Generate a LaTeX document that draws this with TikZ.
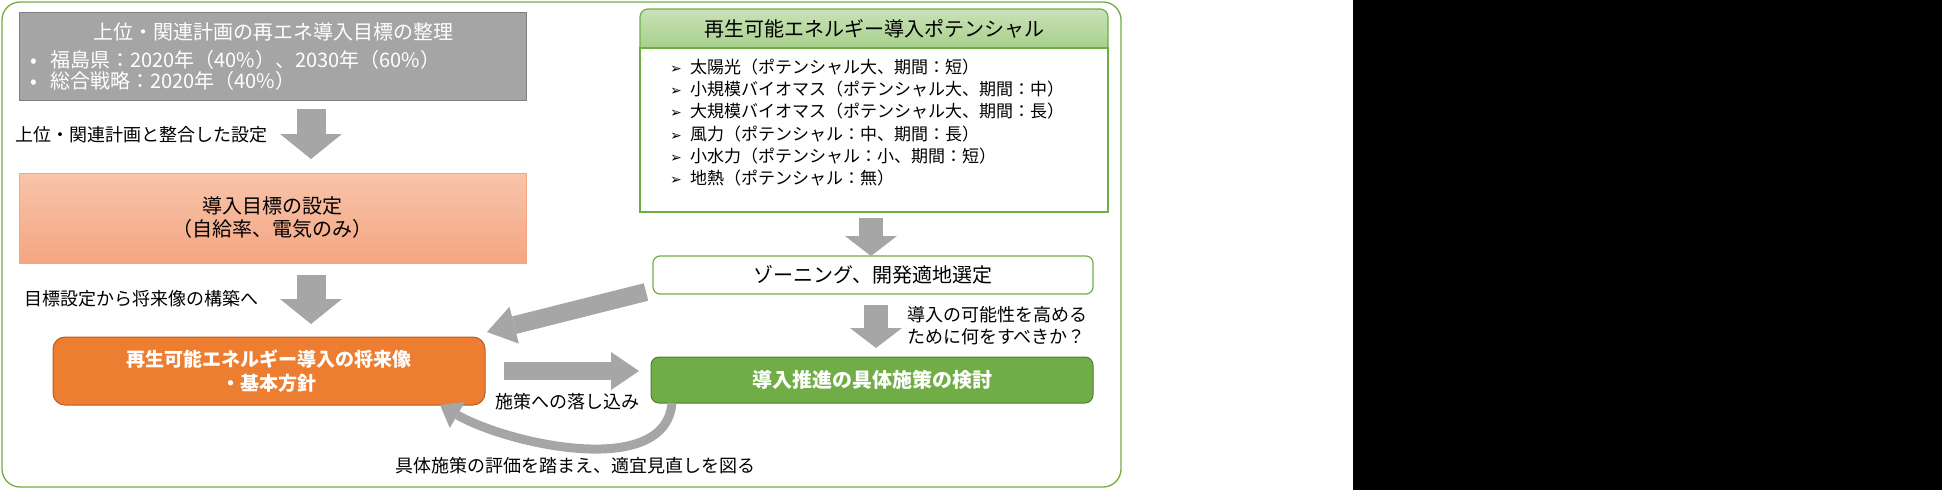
\documentclass[tikz,border=0pt]{standalone}
\usepackage{fontspec}
\setmainfont{Noto Sans CJK JP}
\newfontfamily\dejavu{DejaVu Sans}
\usetikzlibrary{arrows.meta,positioning,calc}
\definecolor{pgreen}{HTML}{70AD47}
\definecolor{pgreendk}{HTML}{507E32}
\definecolor{porange}{HTML}{ED7D31}
\definecolor{porangedk}{HTML}{B85F22}
\definecolor{pgray}{HTML}{A5A5A5}
\definecolor{pgraydk}{HTML}{7F7F7F}
\definecolor{arrgray}{HTML}{A6A6A6}
\definecolor{salmontop}{HTML}{F8C4AA}
\definecolor{salmonbot}{HTML}{F4A682}
\definecolor{headtop}{HTML}{C9E2B8}
\definecolor{headbot}{HTML}{9FCB80}
\newcommand{\pbul}{\makebox[20pt][l]{\dejavu\fontsize{14}{14}\selectfont ➢}}
\newcommand{\gbul}{\makebox[20pt][l]{•}}

\begin{document}
\begin{tikzpicture}[x=1pt, y=1pt,
    frame/.style={draw=pgreen, line width=1.3pt, rounded corners=18pt},
    plain/.style={rectangle, inner sep=0pt, outer sep=0pt},
    graybox/.style={plain, fill=pgray, draw=pgraydk, line width=0.8pt, minimum width=507pt, minimum height=88pt},
    salmonbox/.style={plain, top color=salmontop, bottom color=salmonbot, draw=salmonbot, minimum width=507pt, minimum height=90pt, align=center, font=\fontsize{20}{23}\selectfont},
    orangebox/.style={plain, rounded corners=12pt, fill=porange, draw=porangedk, line width=1pt, minimum width=432pt, minimum height=68pt, align=center, text=white, font=\bfseries\fontsize{19}{24}\selectfont},
    headbox/.style={plain, rounded corners=8pt, top color=headtop, bottom color=headbot, draw=pgreen, line width=1.2pt, minimum width=468pt, minimum height=49pt},
    listbox/.style={plain, fill=white, draw=pgreen, line width=1.2pt, minimum width=468pt, minimum height=164pt},
    zonebox/.style={plain, rounded corners=7pt, fill=white, draw=pgreen, line width=1.2pt, minimum width=440pt, minimum height=38pt, font=\fontsize{20}{24}\selectfont},
    greenbox/.style={plain, rounded corners=8pt, fill=pgreen, draw=pgreendk, line width=1pt, minimum width=442pt, minimum height=46pt, text=white, font=\bfseries\fontsize{20}{24}\selectfont},
    wtxt/.style={text=white, inner sep=0pt, font=\fontsize{20}{24}\selectfont},
    item/.style={anchor=west, inner sep=0pt, font=\fontsize{17}{20}\selectfont},
    lbl/.style={inner sep=0pt, font=\fontsize{18}{22}\selectfont},
    bigarr/.style={draw=arrgray, line width=29pt, -{Triangle[length=25pt, width=62pt, line width=0pt]}},
    midarr/.style={draw=arrgray, line width=24pt, -{Triangle[length=20pt, width=52pt, line width=0pt]}},
    slimarr/.style={draw=arrgray, line width=18pt, -{Triangle[length=28pt, width=38pt, line width=0pt]}},
    bendarr/.style={draw=arrgray, line width=9pt, -{Triangle[length=20pt, width=30pt, line width=0pt]}}
]
    \useasboundingbox (0,0) rectangle (1942,-490);
    \fill[white] (0,0) rectangle (1353,-490);
    \fill[black] (1353,0) rectangle (1942,-490);
    \draw[frame] (2,-2) rectangle (1121,-487);

    % Left column
    \node[graybox] (goal) at (272.5,-56) {};
    \node[wtxt] (goaltitle) at (273,-32) {上位・関連計画の再エネ導入目標の整理};
    \node[wtxt, anchor=west] (goal1) at (30,-60) {\gbul 福島県：2020年（40\%）、2030年（60\%）};
    \node[wtxt, anchor=west] (goal2) at (30,-81) {\gbul 総合戦略：2020年（40\%）};
    \node[salmonbox] (target) at (272.5,-218) {導入目標の設定\\（自給率、電気のみ）};
    \node[orangebox] (vision) at (269,-371) {再生可能エネルギー導入の将来像\\・基本方針};

    % Right column
    \node[headbox] (pothead) at (874,-33.5) {};
    \node[listbox] (potlist) at (874,-130) {};
    \node[inner sep=0pt, font=\fontsize{20}{24}\selectfont] (pottitle) at (874,-28.5) {再生可能エネルギー導入ポテンシャル};
    \foreach \txt [count=\i] in {太陽光（ポテンシャル大、期間：短）, 小規模バイオマス（ポテンシャル大、期間：中）, 大規模バイオマス（ポテンシャル大、期間：長）, 風力（ポテンシャル：中、期間：長）, 小水力（ポテンシャル：小、期間：短）, 地熱（ポテンシャル：無）}
        \node[item] (pot\i) at (670,{-67-22.2*(\i-1)}) {\pbul\txt};
    \node[zonebox] (zoning) at (873,-275) {ゾーニング、開発適地選定};
    \node[greenbox] (measure) at (872,-380) {導入推進の具体施策の検討};

    % Arrows
    \draw[bigarr] ([xshift=38.5pt,yshift=-9pt]goal.south) -- ([xshift=38.5pt,yshift=14pt]target.north);
    \draw[bigarr] ([xshift=38.5pt,yshift=-12pt]target.south) -- ([xshift=42pt,yshift=13pt]vision.north);
    \draw[midarr] ([xshift=-3pt,yshift=-6pt]potlist.south) -- ([xshift=-2pt]zoning.north);
    \draw[midarr] ([xshift=3pt,yshift=-11pt]zoning.south) -- ([xshift=4pt,yshift=9pt]measure.north);
    \draw[slimarr] ([xshift=-7pt,yshift=-17pt]zoning.west) -- ([xshift=2pt,yshift=5pt]vision.north east);
    \draw[slimarr] ([xshift=19pt]vision.east) -- ($(vision.east -| measure.west)+(-12,0)$);
    \draw[bendarr] ([xshift=21pt]measure.south west) to[out=-95, in=-30, looseness=0.85] ([xshift=-45pt]vision.south east);

    % Labels
    \node[lbl, anchor=west] (lblalign) at (15,-135) {上位・関連計画と整合した設定};
    \node[lbl, anchor=west] (lblbuild) at (24,-299) {目標設定から将来像の構築へ};
    \node[lbl] (lbldrop) at (567,-402) {施策への落し込み};
    \node[lbl, anchor=west, align=left] (lblwhat) at (907,-326) {導入の可能性を高める\\ために何をすべきか？};
    \node[lbl] (lblreview) at (575,-466) {具体施策の評価を踏まえ、適宜見直しを図る};
\end{tikzpicture}
\end{document}
